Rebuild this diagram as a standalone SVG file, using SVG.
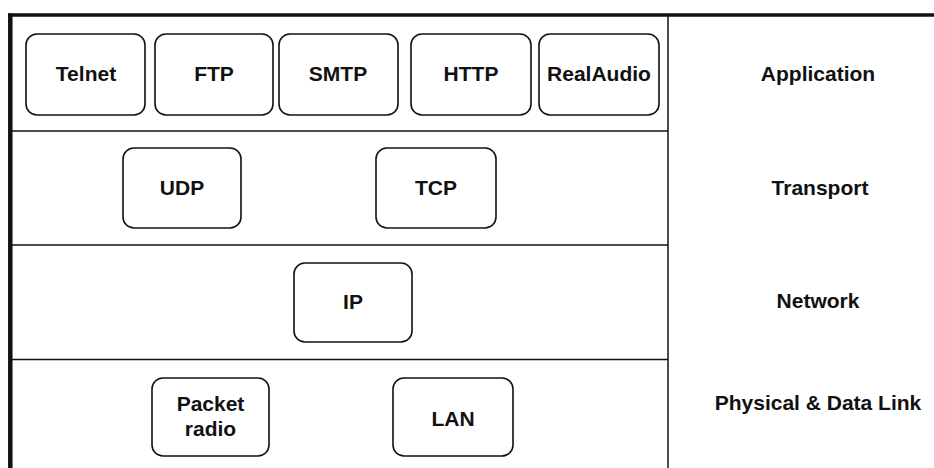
<svg xmlns="http://www.w3.org/2000/svg" width="934" height="468" viewBox="0 0 934 468">
<style>
.box{fill:#fff;stroke:#111;stroke-width:1.6}
.t{font-family:"Liberation Sans",Arial,sans-serif;font-weight:bold;font-size:21px;fill:#111;text-anchor:middle}
.ln{stroke:#111;stroke-width:1.5;fill:none}
</style>
<rect width="934" height="468" fill="#fff"/>
<g id="frame">
<line x1="8" y1="15" x2="934" y2="15" stroke="#111" stroke-width="3.5"/>
<line x1="10.3" y1="13.5" x2="10.3" y2="468" stroke="#111" stroke-width="4.5"/>
<line class="ln" x1="668" y1="15" x2="668" y2="468"/>
<line class="ln" x1="12" y1="131" x2="668" y2="131"/>
<line class="ln" x1="12" y1="245" x2="668" y2="245"/>
<line class="ln" x1="12" y1="359.5" x2="668" y2="359.5"/>
</g>
<g id="layer-labels">
<text class="t" x="818" y="81">Application</text>
<text class="t" x="820" y="195">Transport</text>
<text class="t" x="818" y="308">Network</text>
<text class="t" x="818" y="410">Physical &amp; Data Link</text>
</g>
<g id="telnet"><rect class="box" x="26" y="34" width="119" height="81" rx="11"/><text class="t" x="86" y="81">Telnet</text></g>
<g id="ftp"><rect class="box" x="155" y="34" width="118" height="81" rx="11"/><text class="t" x="214" y="81">FTP</text></g>
<g id="smtp"><rect class="box" x="279" y="34" width="119" height="81" rx="11"/><text class="t" x="338" y="81">SMTP</text></g>
<g id="http"><rect class="box" x="411" y="34" width="120" height="81" rx="11"/><text class="t" x="471" y="81">HTTP</text></g>
<g id="realaudio"><rect class="box" x="539" y="34" width="120" height="81" rx="11"/><text class="t" x="599" y="81">RealAudio</text></g>
<g id="udp"><rect class="box" x="123" y="148" width="118" height="80" rx="11"/><text class="t" x="182" y="195">UDP</text></g>
<g id="tcp"><rect class="box" x="376" y="148" width="120" height="80" rx="11"/><text class="t" x="436" y="195">TCP</text></g>
<g id="ip"><rect class="box" x="294" y="263" width="118" height="79" rx="11"/><text class="t" x="353" y="309">IP</text></g>
<g id="packet-radio"><rect class="box" x="152" y="378" width="117" height="78" rx="11"/><text class="t" x="210.5" y="411">Packet</text><text class="t" x="210.5" y="436">radio</text></g>
<g id="lan"><rect class="box" x="393" y="378" width="120" height="78" rx="11"/><text class="t" x="453" y="426">LAN</text></g>
<g id="connectors"/>
</svg>
